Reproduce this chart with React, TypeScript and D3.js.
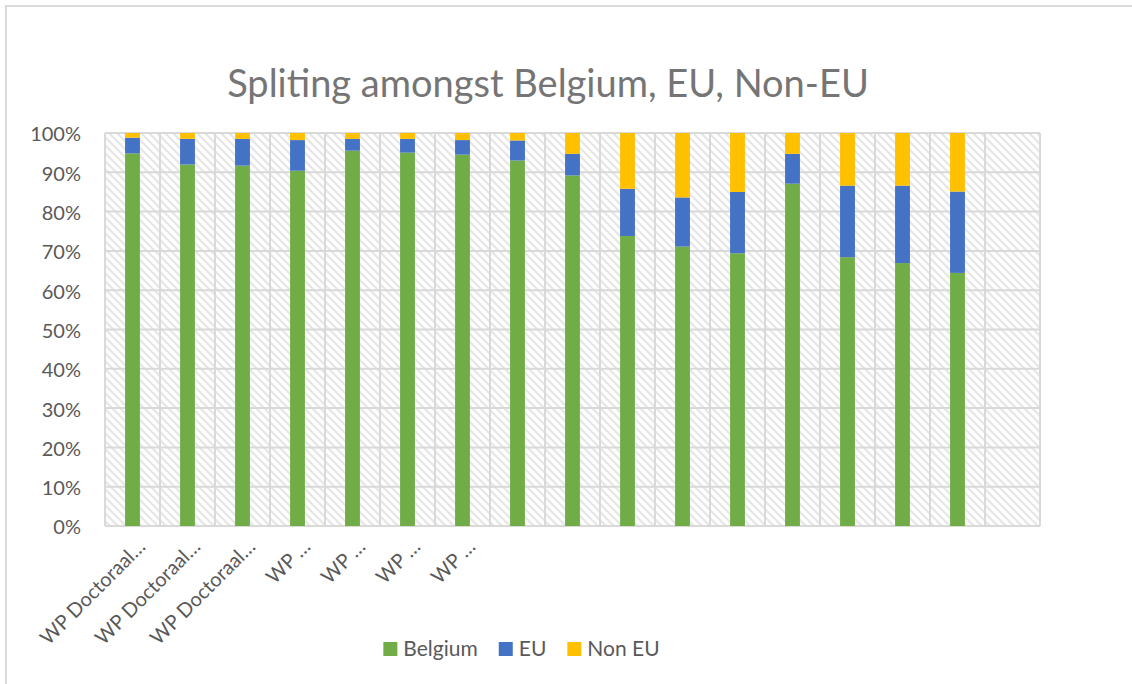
import React, { useEffect, useRef } from 'react'
import * as d3 from 'd3'

// category labels as shown (Excel truncates the long names), last slot has no data
const categories = [
  'WP Doctoraal…', 'WP Doctoraal…', 'WP Doctoraal…', 'WP …', 'WP …', 'WP …', 'WP …',
  '', '', '', '', '', '', '', '', '', ''
]

// shares in %
const belgium = [94.8, 92.0, 91.7, 90.4, 95.5, 95.0, 94.5, 93.0, 89.2, 73.8, 71.1, 69.4, 87.1, 68.4, 66.9, 64.4]
const eu = [4.0, 6.5, 6.8, 7.8, 3.0, 3.5, 3.7, 5.1, 5.5, 12.0, 12.5, 15.6, 7.6, 18.2, 19.7, 20.7]
const nonEu = [1.2, 1.5, 1.5, 1.8, 1.5, 1.5, 1.8, 1.9, 5.3, 14.2, 16.4, 15.0, 5.3, 13.4, 13.4, 14.9]

const seriesNames = ['Belgium', 'EU', 'Non EU']
const seriesColors = ['#70ad47', '#4472c4', '#ffc000']
const yTicks = [0, 10, 20, 30, 40, 50, 60, 70, 80, 90, 100]

const title = 'Spliting amongst Belgium, EU, Non-EU'

const W = 1132
const H = 684
const FONT = 'Lato, "Open Sans", sans-serif'

function App () {
  const ref = useRef<SVGSVGElement>(null)

  useEffect(() => {
    const svg = d3.select(ref.current)
    svg.selectAll('*').remove()

    const margin = { top: 133, right: 92, bottom: 158, left: 105 }
    const x = d3.scaleBand<number>()
      .domain(d3.range(categories.length))
      .range([margin.left, W - margin.right])
      .paddingInner(0)
    const y = d3.scaleLinear().domain([0, 100]).range([H - margin.bottom, margin.top])
    const barW = x.bandwidth() * 0.27

    const rows = belgium.map((b, i) => ({ i, Belgium: b, EU: eu[i], 'Non EU': nonEu[i] }))
    const stacked = d3.stack<any>().keys(seriesNames)(rows)

    // hatch pattern for the plot area
    const defs = svg.append('defs')
    const pat = defs.append('pattern')
      .attr('id', 'hatch')
      .attr('patternUnits', 'userSpaceOnUse')
      .attr('width', 8)
      .attr('height', 8)
    pat.append('rect').attr('width', 8).attr('height', 8).attr('fill', '#ffffff')
    pat.append('path')
      .attr('d', 'M-2,-2 L10,10 M-2,6 L2,10 M6,-2 L10,2')
      .attr('stroke', '#e6e6e6')
      .attr('stroke-width', 2.2)

    // outer chart border
    svg.append('rect')
      .attr('x', 6)
      .attr('y', 6)
      .attr('width', W + 20)
      .attr('height', H + 20)
      .attr('fill', '#ffffff')
      .attr('stroke', '#d9d9d9')
      .attr('stroke-width', 2)

    svg.append('text')
      .attr('x', 548)
      .attr('y', 97)
      .attr('text-anchor', 'middle')
      .attr('font-family', FONT)
      .attr('font-size', 38)
      .attr('fill', '#757575')
      .text(title)

    const [x0, x1] = x.range()
    const [yb, yt] = y.range()

    svg.append('rect')
      .attr('x', x0)
      .attr('y', yt)
      .attr('width', x1 - x0)
      .attr('height', yb - yt)
      .attr('fill', 'url(#hatch)')

    const grid = svg.append('g').attr('stroke', '#d9d9d9').attr('stroke-width', 2)
    grid.selectAll('.h')
      .data(yTicks)
      .join('line')
      .attr('x1', x0)
      .attr('x2', x1)
      .attr('y1', d => y(d))
      .attr('y2', d => y(d))
    grid.selectAll('.v')
      .data(d3.range(categories.length + 1))
      .join('line')
      .attr('x1', i => x0 + i * x.step())
      .attr('x2', i => x0 + i * x.step())
      .attr('y1', yt)
      .attr('y2', yb)

    // stacked bars
    svg.append('g')
      .selectAll('g')
      .data(stacked)
      .join('g')
      .attr('fill', (d, k) => seriesColors[k])
      .selectAll('rect')
      .data(d => d)
      .join('rect')
      .attr('x', d => (x(d.data.i) as number) + (x.bandwidth() - barW) / 2)
      .attr('width', barW)
      .attr('y', d => y(d[1]))
      .attr('height', d => y(d[0]) - y(d[1]))

    // y axis labels
    svg.append('g')
      .selectAll('text')
      .data(yTicks)
      .join('text')
      .attr('x', 81)
      .attr('y', d => y(d))
      .attr('dy', '0.42em')
      .attr('text-anchor', 'end')
      .attr('font-family', FONT)
      .attr('font-size', 20)
      .attr('fill', '#595959')
      .text(d => d + '%')

    // x labels, rotated
    svg.append('g')
      .selectAll('text')
      .data(categories)
      .join('text')
      .attr('text-anchor', 'end')
      .attr('font-family', FONT)
      .attr('font-size', 20)
      .attr('fill', '#595959')
      .attr('transform', (d, i) => {
        const cx = (x(i) as number) + x.bandwidth() / 2 + 14
        return 'translate(' + cx + ',' + (yb + 22) + ') rotate(-45)'
      })
      .text(d => d)

    // legend
    const legend = svg.append('g')
    const items = legend.selectAll('g')
      .data(seriesNames)
      .join('g')
    items.append('rect')
      .attr('width', 14)
      .attr('height', 14)
      .attr('y', 642)
      .attr('fill', (d, k) => seriesColors[k])
    items.append('text')
      .attr('x', 20)
      .attr('y', 656)
      .attr('font-family', FONT)
      .attr('font-size', 21)
      .attr('fill', '#595959')
      .text(d => d)
    const widths: number[] = []
    items.select('text').each(function () {
      widths.push(20 + (this as SVGTextElement).getComputedTextLength())
    })
    const gap = 21
    const total = d3.sum(widths) + gap * (widths.length - 1)
    let pos = 521.5 - total / 2
    items.attr('transform', (d, k) => {
      const t = 'translate(' + pos + ',0)'
      pos += widths[k] + gap
      return t
    })
  }, [])

  return (
    <svg
      ref={ref}
      width={W}
      height={H}
      style={{ position: 'absolute', left: 0, top: 0, display: 'block', background: '#ffffff' }}
    />
  )
}

export default App
